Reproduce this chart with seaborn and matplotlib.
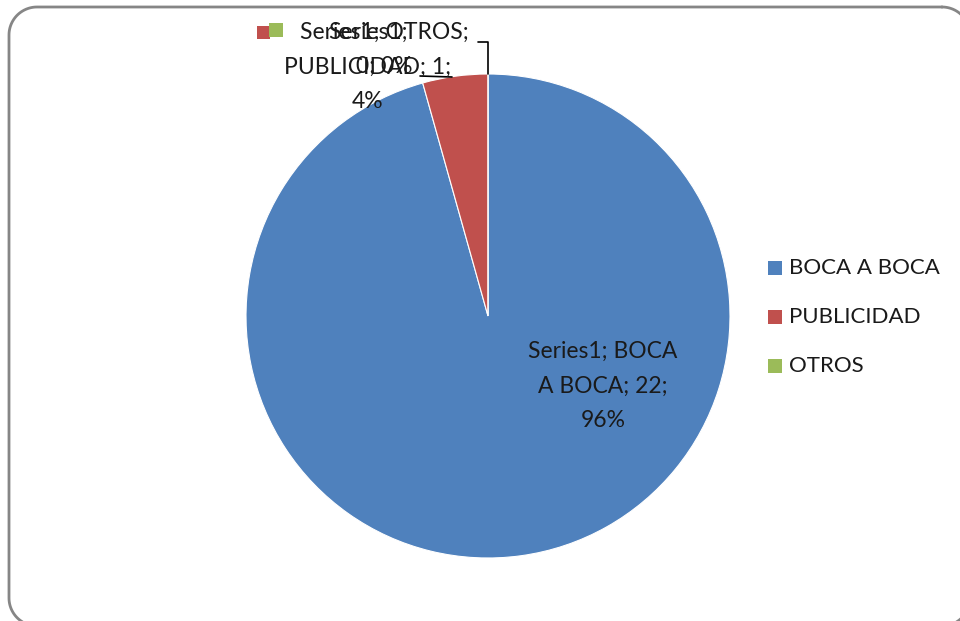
import matplotlib
matplotlib.use("Agg")
import matplotlib.pyplot as plt
from matplotlib.patches import Rectangle
import numpy as np
import seaborn as sns

# Data
categories = ["BOCA A BOCA", "PUBLICIDAD", "OTROS"]
values = [22, 1, 0]
series_name = "Series1"
colors = ["#4F81BD", "#C0504D", "#9BBB59"]

sns.set_theme(style="white")
plt.rcParams["font.family"] = ["Lato", "DejaVu Sans"]

W, H = 960, 621
fig = plt.figure(figsize=(W / 100, H / 100), dpi=100)
fig.patch.set_facecolor("white")


def rounded_rect(x0, y0, x1, y1, rad, n=24):
    """Outline of a rounded rectangle in pixel units (y grows downwards)."""
    pts = []
    corners = [(x1 - rad, y0 + rad, -90, 0), (x1 - rad, y1 - rad, 0, 90),
               (x0 + rad, y1 - rad, 90, 180), (x0 + rad, y0 + rad, 180, 270)]
    for ccx, ccy, a0, a1 in corners:
        t = np.radians(np.linspace(a0, a1, n))
        pts += list(zip(ccx + rad * np.cos(t), ccy + rad * np.sin(t)))
    pts.append(pts[0])
    return np.array(pts)


# Background layer in pixel units (origin top-left) for the chart frame
bg = fig.add_axes([0, 0, 1, 1], zorder=-1)
bg.set_xlim(0, W)
bg.set_ylim(H, 0)
bg.axis("off")
outline = rounded_rect(9, 7, 970, 626, 28)
bg.plot(outline[:, 0], outline[:, 1], color="#868686", linewidth=2.0, clip_on=False)

# Pie axes: centre (488, 316) px, radius 242 px
cx, cy, r = 488, 316, 242
ax = fig.add_axes([(cx - r) / W, (H - cy - r) / H, 2 * r / W, 2 * r / H])
wedges, _ = ax.pie(values, colors=colors, startangle=90, counterclock=False,
                   wedgeprops=dict(edgecolor="white", linewidth=0.8))
ax.set_xlim(-1, 1)
ax.set_ylim(-1, 1)
ax.set_aspect("equal")
ax.axis("off")

total = sum(values)
pcts = [round(v * 100 / total) for v in values]

# Overlay layer in pixel units (origin top-left) for text drawn above the pie
top = fig.add_axes([0, 0, 1, 1], zorder=2)
top.set_xlim(0, W)
top.set_ylim(H, 0)
top.axis("off")

fs = 16.5
lab = dict(fontsize=fs, color="#1a1a1a", ha="center", va="center", linespacing=1.78)

# Data labels
top.text(603, 386, f"{series_name}; BOCA\nA BOCA; {values[0]};\n{pcts[0]}%", **lab)
top.text(368, 67, f"{series_name};\n{categories[1]}; {values[1]};\n{pcts[1]}%", **lab)
top.text(384, 49, f"{series_name}; {categories[2]};\n{values[2]}; {pcts[2]}%", **lab)

# Legend keys inside the labels
top.add_patch(Rectangle((257, 26), 13, 13, facecolor=colors[1], edgecolor="none"))
top.add_patch(Rectangle((269, 23), 14, 14, facecolor=colors[2], edgecolor="none"))

# Leader lines
top.plot([478, 488, 488], [42, 42, 74], color="black", linewidth=1.2)
top.plot([420, 452], [76, 77], color="black", linewidth=1.2)

# Legend
for i, (cat, col) in enumerate(zip(categories, colors)):
    y = 268 + i * 49
    top.add_patch(Rectangle((768, y - 7), 14, 14, facecolor=col, edgecolor="none"))
    top.text(789, y, cat, fontsize=16, color="#1a1a1a", ha="left", va="center")

fig.savefig("out.png", dpi=100)
